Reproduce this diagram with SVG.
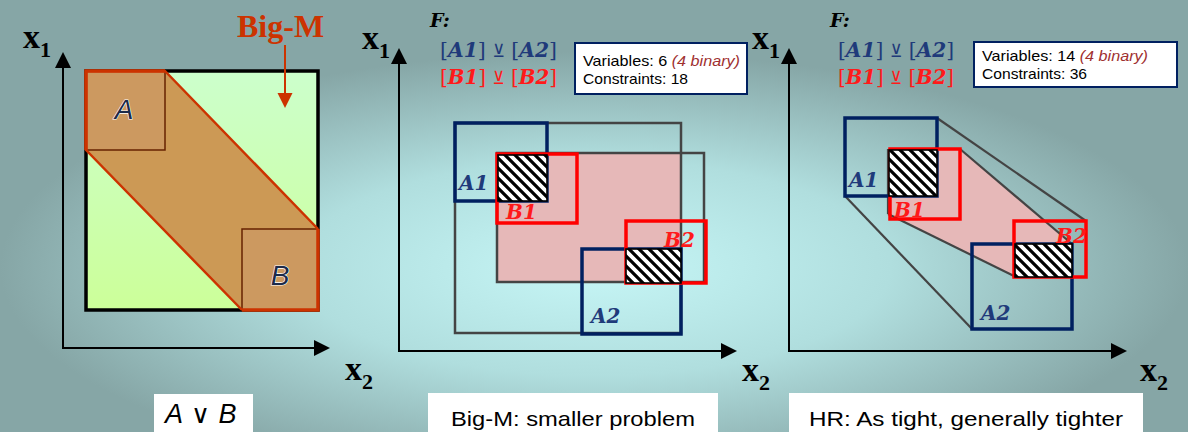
<svg xmlns="http://www.w3.org/2000/svg" width="1188" height="432" viewBox="0 0 1188 432">
<defs>
<radialGradient id="bg" cx="0.5" cy="0.62" r="0.5">
<stop offset="0" stop-color="#c6f6f6"/>
<stop offset="0.5" stop-color="#b0dede"/>
<stop offset="1" stop-color="#86a6a6"/>
</radialGradient>
<linearGradient id="green" x1="0" y1="0" x2="0" y2="1">
<stop offset="0" stop-color="#ccffcc"/>
<stop offset="1" stop-color="#ccff99"/>
</linearGradient>
<pattern id="hatch" patternUnits="userSpaceOnUse" width="10" height="10">
<rect width="10" height="10" fill="#fff"/>
<path d="M-2,-2 L12,12 M-2,8 L2,12 M8,-2 L12,2" stroke="#000" stroke-width="3.2"/>
</pattern>
<marker id="ah" viewBox="0 0 16 16" refX="0" refY="8" markerWidth="16" markerHeight="16" markerUnits="userSpaceOnUse" orient="auto-start-reverse">
<path d="M0,0 L16,8 L0,16 z" fill="#000"/>
</marker>
<style>
.axis{fill:none;stroke:#000;stroke-width:2;marker-start:url(#ah);marker-end:url(#ah)}
.ax{font-family:"Liberation Serif",serif;font-weight:bold;font-size:34px;fill:#000}
.sub{font-size:22px}
.arect{fill:none;stroke:#002060;stroke-width:3.5}
.brect{fill:none;stroke:#ff0000;stroke-width:3.5}
.grect{fill:none;stroke:#444;stroke-width:2.5}
.hull{stroke:#444;stroke-width:2.2;fill:none}
.hat{fill:url(#hatch);stroke:#000;stroke-width:1.6}
.pink{fill:#e6b8b8}
.lbl{font-family:"DejaVu Serif",serif;font-weight:bold;font-style:italic;font-size:20px}
.la{fill:#1f3a7a}
.lb{fill:#ff1a1a}
.frm{font-family:"DejaVu Serif",serif;font-size:21px}
.bi{font-weight:bold;font-style:italic}
.xor{font-family:"DejaVu Sans",sans-serif;font-size:18px}
.F{font-family:"DejaVu Serif",serif;font-weight:bold;font-style:italic;font-size:19px;fill:#000}
.info{fill:#fff;stroke:#002060;stroke-width:2}
.it{font-family:"Liberation Sans",sans-serif;font-size:15px;fill:#000}
.bin{font-style:italic;fill:#a03030}
.cap{fill:#fff}
.ct{font-family:"Liberation Sans",sans-serif;font-size:21px;fill:#000}
.ab{font-family:"Liberation Sans",sans-serif;font-style:italic;font-size:28px;fill:#1c2a4a;stroke:#fff;stroke-width:1.2;paint-order:stroke;text-anchor:middle}
</style>
</defs>
<rect width="1188" height="432" fill="url(#bg)"/>

<g id="left-panel">
<rect x="86" y="71" width="232" height="239" fill="url(#green)" stroke="#000" stroke-width="3.5"/>
<polygon points="86,71 165,71 318,229 318,310 242,310 86,150" fill="#cc9955"/>
<rect x="86" y="71" width="79" height="79" fill="#cc9960" stroke="#662200" stroke-width="1.5"/>
<rect x="242" y="229" width="76" height="81" fill="#cc9960" stroke="#662200" stroke-width="1.5"/>
<path d="M242,310 L86,150 L86,71 L165,71 L318,229" fill="none" stroke="#cc3300" stroke-width="2.5" stroke-linejoin="round"/>
<path d="M86,150 L86,71 L165,71" fill="none" stroke="#cc3300" stroke-width="3.5"/>
<path d="M318,229 L318,310 L242,310" fill="none" stroke="#cc3300" stroke-width="3.5"/>
<text class="ab" x="124" y="119">A</text>
<text class="ab" x="280" y="285">B</text>
</g>

<g id="bigm-label">
<text x="237" y="37" font-family="Liberation Serif, serif" font-weight="bold" font-size="32" fill="#cc3300">Big-M</text>
</g>

<g id="left-caption">
<rect class="cap" x="154" y="394" width="99" height="38"/>
<text x="165" y="423" font-family="Liberation Sans, sans-serif" font-size="27" fill="#000"><tspan font-style="italic">A</tspan><tspan font-family="DejaVu Sans, sans-serif" font-size="26" font-weight="300"> ∨ </tspan><tspan font-style="italic">B</tspan></text>
</g>

<g id="middle-panel">
<rect class="pink" x="497" y="153" width="184" height="129"/>
<rect class="grect" x="455" y="123" width="226" height="210"/>
<rect class="grect" x="497" y="153" width="207" height="129"/>
<rect class="arect" x="455" y="123" width="92" height="78"/>
<rect class="arect" x="582" y="249" width="99" height="85"/>
<rect class="brect" x="497" y="154" width="80" height="69"/>
<rect class="brect" x="626" y="221" width="80" height="62"/>
<rect class="hat" x="498" y="155" width="49" height="46"/>
<rect class="hat" x="626" y="249" width="55" height="34"/>
<text class="lbl la" x="459" y="190">A1</text>
<text class="lbl lb" x="506" y="219">B1</text>
<text class="lbl lb" x="664" y="247">B2</text>
<text class="lbl la" x="591" y="323">A2</text>
</g>

<g id="middle-formula">
<text class="F" x="430" y="27">F:</text>
<text class="frm" x="440" y="57" fill="#1f3a7a" textLength="117" lengthAdjust="spacingAndGlyphs">[<tspan class="bi">A1</tspan>] <tspan class="xor">⊻</tspan> [<tspan class="bi">A2</tspan>]</text>
<text class="frm" x="440" y="84" fill="#ff1a1a" textLength="117" lengthAdjust="spacingAndGlyphs">[<tspan class="bi">B1</tspan>] <tspan class="xor">⊻</tspan> [<tspan class="bi">B2</tspan>]</text>
</g>

<g id="middle-info">
<rect class="info" x="575" y="43" width="172" height="51"/>
<text class="it" x="583" y="66" textLength="157" lengthAdjust="spacingAndGlyphs">Variables: 6 <tspan class="bin">(4 binary)</tspan></text>
<text class="it" x="583" y="84" textLength="105" lengthAdjust="spacingAndGlyphs">Constraints: 18</text>
</g>

<g id="middle-caption">
<rect class="cap" x="428" y="393" width="290" height="39"/>
<text class="ct" x="451" y="426" textLength="244" lengthAdjust="spacingAndGlyphs">Big-M: smaller problem</text>
</g>

<g id="right-panel">
<polygon class="pink" points="888,149 960,149 1072,244 1072,277 1016,277 888,214"/>
<line class="hull" x1="937" y1="118" x2="1086" y2="221"/>
<line class="hull" x1="845" y1="196" x2="972" y2="329"/>
<line class="hull" x1="960" y1="149" x2="1072" y2="244"/>
<line class="hull" x1="888" y1="214" x2="1016" y2="277"/>
<line class="hull" x1="888" y1="149" x2="888" y2="214"/>
<rect class="arect" x="845" y="118" width="92" height="78"/>
<rect class="arect" x="972" y="244" width="100" height="85"/>
<rect class="brect" x="890" y="149" width="70" height="70"/>
<rect class="brect" x="1014" y="221" width="72" height="56"/>
<rect class="hat" x="889" y="150" width="48" height="46"/>
<rect class="hat" x="1015" y="244" width="57" height="33"/>
<text class="lbl la" x="849" y="187">A1</text>
<text class="lbl lb" x="894" y="217">B1</text>
<text class="lbl lb" x="1056" y="243">B2</text>
<text class="lbl la" x="981" y="320">A2</text>
</g>

<g id="right-formula">
<text class="F" x="830" y="27">F:</text>
<text class="frm" x="838" y="57" fill="#1f3a7a" textLength="116" lengthAdjust="spacingAndGlyphs">[<tspan class="bi">A1</tspan>] <tspan class="xor">⊻</tspan> [<tspan class="bi">A2</tspan>]</text>
<text class="frm" x="838" y="84" fill="#ff1a1a" textLength="116" lengthAdjust="spacingAndGlyphs">[<tspan class="bi">B1</tspan>] <tspan class="xor">⊻</tspan> [<tspan class="bi">B2</tspan>]</text>
</g>

<g id="right-info">
<rect class="info" x="974" y="42" width="203" height="45"/>
<text class="it" x="982" y="61" textLength="166" lengthAdjust="spacingAndGlyphs">Variables: 14 <tspan class="bin">(4 binary)</tspan></text>
<text class="it" x="982" y="79" textLength="105" lengthAdjust="spacingAndGlyphs">Constraints: 36</text>
</g>

<g id="right-caption">
<rect class="cap" x="789" y="393" width="354" height="39"/>
<text class="ct" x="809" y="426" textLength="314" lengthAdjust="spacingAndGlyphs">HR: As tight, generally tighter</text>
</g>

<g id="axis-labels">
<text class="ax" x="23" y="48">x<tspan class="sub" dy="9">1</tspan></text>
<text class="ax" x="345" y="380">x<tspan class="sub" dy="9">2</tspan></text>
<text class="ax" x="362" y="49">x<tspan class="sub" dy="9">1</tspan></text>
<text class="ax" x="742" y="381">x<tspan class="sub" dy="9">2</tspan></text>
<text class="ax" x="752" y="49">x<tspan class="sub" dy="9">1</tspan></text>
<text class="ax" x="1140" y="381">x<tspan class="sub" dy="9">2</tspan></text>
</g>

<g id="connectors">
<path class="axis" d="M63,68 L63,348 L314,348"/>
<path class="axis" d="M399,64 L399,351 L721,351"/>
<path class="axis" d="M789,64 L789,351 L1111,351"/>
<line x1="285" y1="45" x2="285" y2="94" stroke="#cc3300" stroke-width="2"/>
<polygon points="277.5,93 292.5,93 285,108" fill="#cc3300"/>
</g>
</svg>
